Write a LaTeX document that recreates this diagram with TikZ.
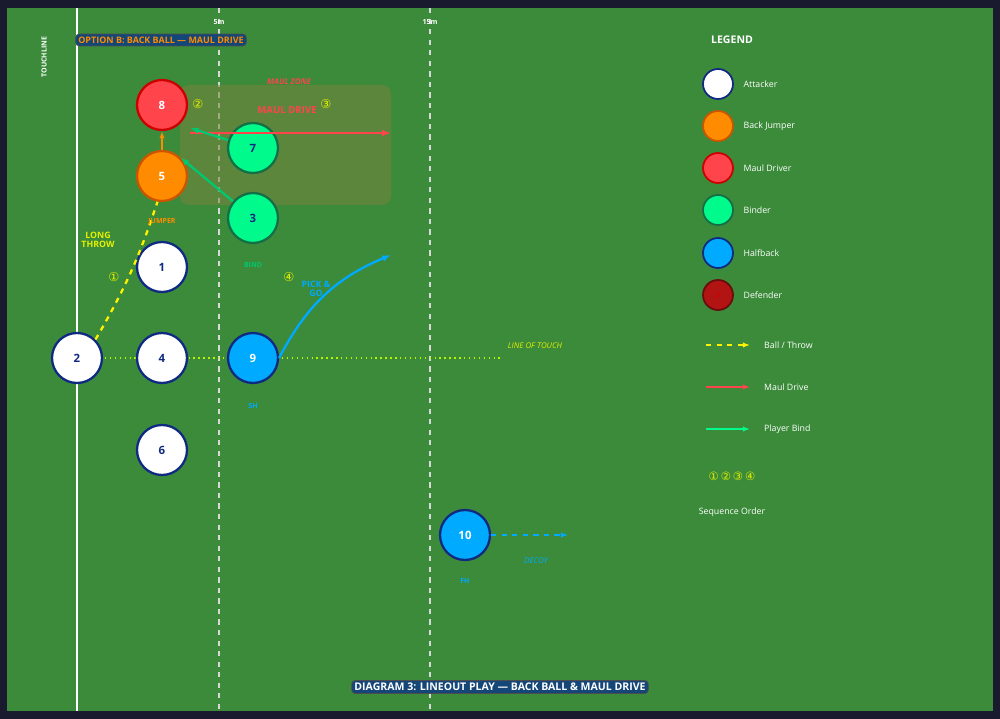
\documentclass[tikz,border=0pt]{standalone}
\usepackage{fontspec}
\setmainfont{Open Sans}
\newfontfamily\symfont{DejaVu Sans}
\usetikzlibrary{arrows.meta, positioning}
\definecolor{framebg}{RGB}{26,26,46}
\definecolor{fieldgreen}{RGB}{59,139,59}
\definecolor{attackblue}{RGB}{16,42,130}
\definecolor{jumperorange}{RGB}{255,140,0}
\definecolor{jumperedge}{RGB}{204,85,0}
\definecolor{maulred}{RGB}{255,68,76}
\definecolor{mauledge}{RGB}{204,0,0}
\definecolor{bindgreen}{RGB}{0,250,140}
\definecolor{bindedge}{RGB}{20,110,70}
\definecolor{halfblue}{RGB}{0,170,255}
\definecolor{defred}{RGB}{178,20,20}
\definecolor{seqyellow}{RGB}{230,240,0}
\definecolor{titleblue}{RGB}{20,70,120}
\definecolor{zonefill}{RGB}{120,130,60}
\tikzset{
  player/.style = {circle, minimum size=1cm, inner sep=0, line width=1.3pt, font=\bfseries\fontsize{6.5}{7}\selectfont},
  attacker/.style = {player, fill=white, draw=attackblue, text=attackblue},
  jumper/.style = {player, fill=jumperorange, draw=jumperedge, text=white},
  driver/.style = {player, fill=maulred, draw=mauledge, text=white},
  binder/.style = {player, fill=bindgreen, draw=bindedge, text=attackblue},
  halfback/.style = {player, fill=halfblue, draw=attackblue, text=white},
  keydot/.style = {circle, minimum size=0.6cm, inner sep=0, line width=1pt},
  keytext/.style = {anchor=west, text=white, font=\fontsize{5}{6}\selectfont},
  tag/.style = {font=\bfseries\fontsize{4}{4.5}\selectfont},
  seq/.style = {text=seqyellow, font=\symfont\fontsize{7}{8}\selectfont},
  banner/.style = {fill=titleblue, draw=black!70, rounded corners=2pt, inner sep=1.5pt, font=\bfseries\fontsize{5.6}{6.5}\selectfont}
}
\begin{document}
\begin{tikzpicture}[x=0.02cm, y=-0.02cm]
  % background and field
  \fill [framebg] (0,0) rectangle (1000,719);
  \fill [fieldgreen] (7,8) rectangle (993,711);
  \draw [white, line width=1.3pt] (77,8) -- (77,711);
  \draw [white!85!black, dashed, thick] (219,8) -- (219,711);
  \draw [white!85!black, dashed, thick] (430,8) -- (430,711);
  \node [tag, text=white] at (219,22) {5m};
  \node [tag, text=white] at (430,22) {15m};
  \node [tag, text=white, rotate=90] at (44,57) {TOUCHLINE};
  \node [banner, text=jumperorange, font=\bfseries\fontsize{5.1}{6}\selectfont] (optB) at (161,40) {OPTION B: BACK BALL — MAUL DRIVE};

  % maul zone
  \fill [zonefill, opacity=0.55, rounded corners=5pt] (180,85) rectangle (391,205);
  \node [text=maulred, font=\bfseries\itshape\fontsize{4.5}{5}\selectfont] at (289,82) {MAUL ZONE};
  \node [text=maulred, font=\bfseries\fontsize{5.5}{6.5}\selectfont] at (287,110) {MAUL DRIVE};

  % line of touch
  \draw [seqyellow!80!green, dotted, thick] (100,358) -- (500,358);
  \node [text=seqyellow, font=\itshape\fontsize{4.5}{5}\selectfont] at (535,346) {LINE OF TOUCH};

  % players
  \node [driver] (p8) at (162,105) {8};
  \node [jumper] (p5) at (162,176) {5};
  \node [binder] (p7) at (253,148) {7};
  \node [binder] (p3) at (253,218) {3};
  \node [attacker] (p1) at (162,267) {1};
  \node [attacker] (p2) at (77,358) {2};
  \node [attacker] (p4) at (162,358) {4};
  \node [halfback] (p9) at (253,358) {9};
  \node [attacker] (p6) at (162,450) {6};
  \node [halfback] (p10) at (465,535) {10};
  \coordinate (driveend) at (391,133);
  \coordinate (pickend) at (391,255);
  \coordinate (decoyend) at (568,535);

  % movement
  \draw [maulred, line width=1.3pt, -{Latex[length=5pt]}] (190,133) -- (driveend);
  \draw [bindgreen!80!black, line width=1.3pt, -{Latex[length=5pt]}] (p7) -- (190,128);
  \draw [bindgreen!80!black, line width=1.3pt, -{Latex[length=5pt]}] (p3) -- (p5.north east);
  \draw [jumperorange, line width=1.3pt, -{Latex[length=4pt]}] (p5) -- (p8);
  \draw [yellow, dashed, line width=1.3pt] (p2.north east) to[bend right=6] (p5.-100);
  \draw [halfblue, line width=1.3pt, -{Latex[length=5pt]}] (p9.east) to[bend left=20] (pickend);
  \draw [halfblue, dashed, thick, -{Latex[length=4pt]}] (p10) -- (decoyend);

  % labels
  \node [tag, text=jumperorange] at (162,222) {JUMPER};
  \node [tag, text=bindgreen!80!black] at (253,265) {BIND};
  \node [tag, text=halfblue] at (253,406) {SH};
  \node [tag, text=halfblue] at (465,581) {FH};
  \node [text=halfblue, font=\itshape\fontsize{4.5}{5}\selectfont] at (536,561) {DECOY};
  \node [tag, text=halfblue, align=center, font=\bfseries\fontsize{5}{5.5}\selectfont] at (316,289) {PICK \&\\GO};
  \node [tag, text=seqyellow, align=center, font=\bfseries\fontsize{5}{5.5}\selectfont] at (98,240) {LONG\\THROW};
  \node [seq] at (114,277) {①};
  \node [seq] at (198,104) {②};
  \node [seq] at (326,104) {③};
  \node [seq] at (289,277) {④};

  % legend
  \node [text=white, font=\bfseries\fontsize{6}{7}\selectfont] at (732,40) {LEGEND};
  \node [keydot, fill=white, draw=attackblue] (kAtt) at (718,84) {};
  \node [keytext, right=2pt of kAtt] {Attacker};
  \node [keydot, fill=jumperorange, draw=jumperedge] (kJmp) at (718,126) {};
  \node [keytext, right=2pt of kJmp] {Back Jumper};
  \node [keydot, fill=maulred, draw=mauledge] (kDrv) at (718,168) {};
  \node [keytext, right=2pt of kDrv] {Maul Driver};
  \node [keydot, fill=bindgreen, draw=bindedge] (kBnd) at (718,210) {};
  \node [keytext, right=2pt of kBnd] {Binder};
  \node [keydot, fill=halfblue, draw=attackblue] (kHlf) at (718,253) {};
  \node [keytext, right=2pt of kHlf] {Halfback};
  \node [keydot, fill=defred, draw=defred!60!black, text=red!80!black, font=\fontsize{4}{4}\selectfont] (kDef) at (718,295) {D};
  \node [keytext, right=2pt of kDef] {Defender};
  \coordinate (kBallA) at (706,345); \coordinate (kBallB) at (750,345);
  \draw [yellow, dashed, line width=1.2pt, -{Latex[length=4pt]}] (kBallA) -- (kBallB);
  \node [keytext] at (758,345) {Ball / Throw};
  \coordinate (kMaulA) at (706,387); \coordinate (kMaulB) at (750,387);
  \draw [maulred, line width=1.2pt, -{Latex[length=4pt]}] (kMaulA) -- (kMaulB);
  \node [keytext] at (758,387) {Maul Drive};
  \coordinate (kBindA) at (706,429); \coordinate (kBindB) at (750,429);
  \draw [bindgreen, line width=1.2pt, -{Latex[length=4pt]}] (kBindA) -- (kBindB);
  \node [keytext] at (758,429) {Player Bind};
  \node [seq, font=\symfont\fontsize{6.5}{7}\selectfont] at (732,476) {①\,②\,③\,④};
  \node [text=white, font=\fontsize{5}{6}\selectfont] at (732,512) {Sequence Order};

  \node [banner, text=white, font=\bfseries\fontsize{6}{7}\selectfont] (diag) at (500,687) {DIAGRAM 3: LINEOUT PLAY — BACK BALL \& MAUL DRIVE};
\end{tikzpicture}
\end{document}
